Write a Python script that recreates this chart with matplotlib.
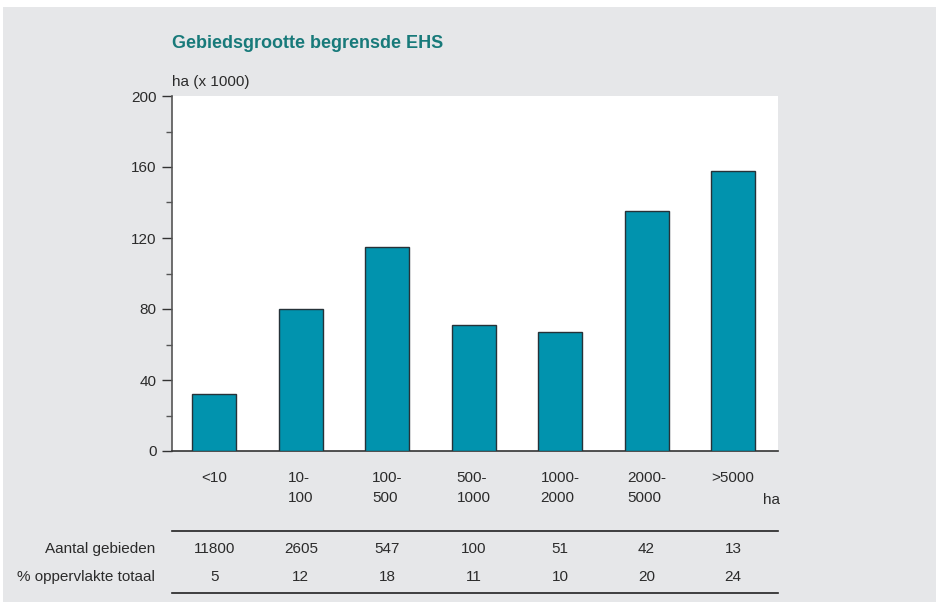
import matplotlib.pyplot as plt
from matplotlib.patches import Rectangle

plt.rcParams['font.family'] = ['Liberation Sans', 'DejaVu Sans']

# data
klassen = ['<10', '10-\n100', '100-\n500', '500-\n1000', '1000-\n2000', '2000-\n5000', '>5000']
oppervlakte = [32, 80, 115, 71, 67, 135, 158]   # ha (x 1000)
aantal = [11800, 2605, 547, 100, 51, 42, 13]
procent = [5, 12, 18, 11, 10, 20, 24]

tekst = '#2b2b2b'
fig = plt.figure(figsize=(9.38, 6.04), dpi=100, facecolor='white')
fig.patches.append(Rectangle((3/938, 2/604), 933/938, 595/604, transform=fig.transFigure,
                             facecolor='#e6e7e9', edgecolor='none', zorder=-5))

ax = fig.add_axes([172/938, 1-451/604, 606/938, 355/604])
ax.set_facecolor('white')
x = range(len(klassen))
ax.bar(x, oppervlakte, width=0.51, color='#0193ae', edgecolor='#263238', linewidth=1.0, zorder=3)

ax.set_xlim(-0.49, 6.52)
ax.set_ylim(0, 200)
ax.set_yticks([0, 40, 80, 120, 160, 200])
ax.set_yticks([20, 60, 100, 140, 180], minor=True)
ax.tick_params(axis='y', which='major', length=7, width=1, color='#333333', labelsize=11, labelcolor=tekst, pad=4)
ax.tick_params(axis='y', which='minor', length=4, width=1, color='#555555')
ax.set_xticks([])
for s in ['top', 'right']:
    ax.spines[s].set_visible(False)
ax.spines['left'].set_color('#555555')
ax.spines['bottom'].set_color('#333333')
ax.spines['left'].set_linewidth(1.2)
ax.spines['bottom'].set_linewidth(1.2)

def ay(ypix):
    return (451 - ypix) / 355

tr = ax.get_xaxis_transform()
for i, k in enumerate(klassen):
    ax.text(i, ay(471), k, transform=tr, ha='center', va='top', fontsize=11, color=tekst,
            multialignment='left', linespacing=1.5)
    ax.text(i, ay(549), str(aantal[i]), transform=tr, ha='center', va='center', fontsize=11, color=tekst)
    ax.text(i, ay(577), str(procent[i]), transform=tr, ha='center', va='center', fontsize=11, color=tekst)
ax.text(771/938, 1-500/604, 'ha', transform=fig.transFigure, ha='center', va='center', fontsize=11, color=tekst)

for yl in [531, 593]:
    ax.plot([0, 1], [ay(yl), ay(yl)], transform=ax.transAxes, color='#222222', lw=1.2, clip_on=False)

fig.text(155/938, 1-549/604, 'Aantal gebieden', ha='right', va='center', fontsize=11, color=tekst)
fig.text(155/938, 1-577/604, '% oppervlakte totaal', ha='right', va='center', fontsize=11, color=tekst)

fig.text(172/938, 1-43/604, 'Gebiedsgrootte begrensde EHS', ha='left', va='center',
         fontsize=13, fontweight='bold', color='#187a7a')
fig.text(172/938, 1-82/604, 'ha (x 1000)', ha='left', va='center', fontsize=11, color=tekst)

fig.savefig('out.png', dpi=100, facecolor=fig.get_facecolor())
